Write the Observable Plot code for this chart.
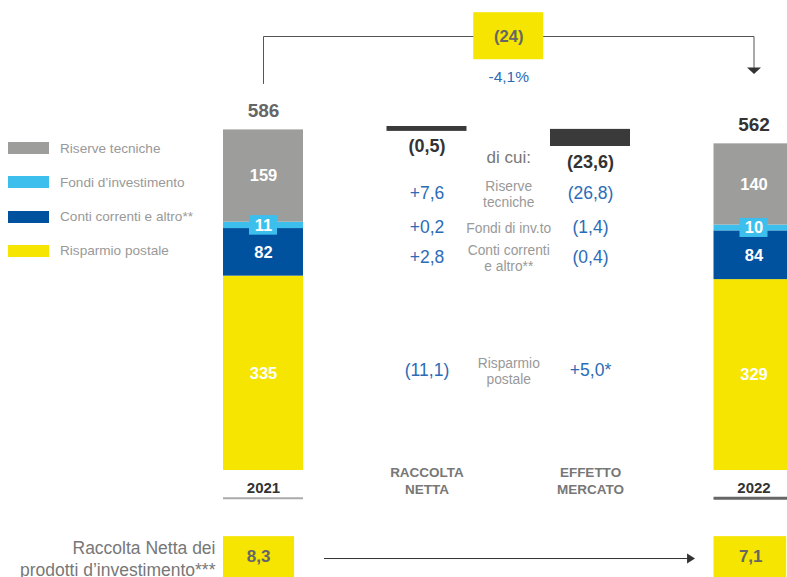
<!DOCTYPE html>
<html><head><meta charset="utf-8">
<script src="https://cdn.jsdelivr.net/npm/d3@7"></script>
<script src="https://cdn.jsdelivr.net/npm/@observablehq/plot@0.6"></script>
<style>
body{margin:0;background:#fff;}
#wrap{position:relative;width:787px;height:577px;overflow:hidden;font-family:"Liberation Sans",Arial,sans-serif;}
#wrap svg{position:absolute;left:0;top:0;}
#legend{position:absolute;left:8px;top:142px;}
.item{display:flex;align-items:center;height:12px;margin-bottom:22.3px;font-size:13.6px;color:#999;white-space:nowrap;}
.sw{width:41px;height:12px;margin-right:11px;flex:none;}
</style></head><body><div id="wrap"></div>
<script>
// ---- data ----
const columns = ["2021", "RACCOLTA\nNETTA", "EFFETTO\nMERCATO", "2022"];
const categories = ["Riserve tecniche", "Fondi d’investimento", "Conti correnti e altro**", "Risparmio postale"];
const colors = ["#9d9d9b", "#3dbfee", "#00529f", "#f5e500"];
const values2021 = [159, 11, 82, 335];
const values2022 = [140, 10, 84, 329];
const total2021 = 586;
const total2022 = 562;
const raccoltaNetta = -0.5;
const effettoMercato = -23.6;
const rowLabels = ["Riserve\ntecniche", "Fondi di inv.to", "Conti correnti\ne altro**", "Risparmio\npostale"];
const rowNet = [7.6, 0.2, 2.8, -11.1];
const rowMarket = [-26.8, -1.4, -0.4, 5.0];
const rowMarketNote = ["", "", "", "*"];
const productLabel = "Raccolta Netta dei\nprodotti d’investimento***";
const productValues = [8.3, 7.1];

// ---- layout (in chart units) ----
const hw = 0.2446;            // half bar width in column units
const rowY = [477, 418.5, 367, 172.5];
const connectorY = 748, connectorStart = 667, connectorEnd = 694, arrowHeadY = 689.4;
const FONT = "Liberation Sans, Arial, sans-serif";

const fmtNum = v => Math.abs(v).toFixed(1).replace(".", ",");
const fmt = v => v < 0 ? "(" + fmtNum(v) + ")" : "+" + fmtNum(v);

function stackRows(col, vals) {
  let acc = 0; const out = [];
  for (const i of [3, 2, 1, 0]) {
    out.push({col, cat: categories[i], value: vals[i], y1: acc, y2: acc + vals[i]});
    acc += vals[i];
  }
  return out;
}
const segs = [...stackRows(0, values2021), ...stackRows(3, values2022)];
const fondi = segs.filter(d => d.cat === categories[1]);

const totals = [{col: 0, v: total2021, c: "#666"}, {col: 3, v: total2022, c: "#333"}];
const flowNet = {col: 1, y1: total2021, y2: total2021 + raccoltaNetta, v: raccoltaNetta};
const flowMkt = {col: 2, y1: total2021 + raccoltaNetta, y2: total2021 + raccoltaNetta + effettoMercato, v: effettoMercato};
const rows = rowLabels.map((l, i) => ({l, y: rowY[i], net: fmt(rowNet[i]), mk: fmt(rowMarket[i]) + rowMarketNote[i]}));
const diff = total2022 - total2021;
const pct = diff / total2021 * 100;

const downTri = {draw(ctx) { ctx.moveTo(-7, -3); ctx.lineTo(7, -3); ctx.lineTo(0, 3.5); ctx.closePath(); }};
const rightTri = {draw(ctx) { ctx.moveTo(-4, -5); ctx.lineTo(4, 0); ctx.lineTo(-4, 5); ctx.closePath(); }};

const bw = {x1: d => d.col - hw, x2: d => d.col + hw, y1: "y1", y2: "y2", fill: "#3a3a3a"};

const chart = Plot.plot({
  width: 787, height: 577, margin: 0,
  style: {fontFamily: FONT, background: "transparent"},
  x: {domain: [0, 3], range: [263, 753.5], axis: null},
  y: {domain: [0, 586], range: [470, 130], axis: null},
  color: {domain: categories, range: colors},
  marks: [
    // stacked bars
    Plot.rect(segs, {x1: d => d.col - hw, x2: d => d.col + hw, y1: "y1", y2: "y2", fill: "cat"}),
    Plot.rect(fondi, {x1: d => d.col - 0.0856, x2: d => d.col + 0.0856, y1: "y1", y2: "y2", fill: "cat", insetTop: -6.6, insetBottom: -6.6}),
    Plot.text(segs, {x: "col", y: d => (d.y1 + d.y2) / 2, text: d => String(d.value), fill: "white", fontWeight: "bold", fontSize: 16.5}),
    // totals
    Plot.text(totals, {x: "col", y: "v", text: d => String(d.v), fill: "c", fontWeight: "bold", fontSize: 19, dy: -20}),
    // waterfall flows
    Plot.rect([flowNet], {...bw, insetTop: -4, insetBottom: -0.6}),
    Plot.rect([flowMkt], {...bw, insetTop: -1.4, insetBottom: -2}),
    Plot.text([flowNet], {x: "col", y: "y2", text: d => fmt(d.v), fill: "#333", fontWeight: "bold", fontSize: 18, dy: 15.5}),
    Plot.text([flowMkt], {x: "col", y: "y2", text: d => fmt(d.v), fill: "#333", fontWeight: "bold", fontSize: 18, dy: 17.5}),
    Plot.text(["di cui:"], {x: 1.5, y: 539, text: d => d, fill: "#777", fontSize: 17}),
    // detail rows
    Plot.text(rows, {x: 1.5, y: "y", text: "l", fill: "#999", fontSize: 13.8, lineHeight: 1.16}),
    Plot.text(rows, {x: 1, y: "y", text: "net", fill: "#2b6cb6", fontSize: 17.5}),
    Plot.text(rows, {x: 2, y: "y", text: "mk", fill: "#2b6cb6", fontSize: 17.5}),
    // column labels
    Plot.text([1, 2], {x: d => d, y: -17, text: d => columns[d], fill: "#777", fontWeight: "bold", fontSize: 13.5, lineHeight: 1.2}),
    Plot.text([0, 3], {x: d => d, y: -31, text: d => columns[d], fill: "#333", fontWeight: "bold", fontSize: 15}),
    Plot.ruleY([0], {x1: -hw, x2: hw, y: -48, stroke: "#aaa", strokeWidth: 2}),
    Plot.ruleY([0], {x1: 3 - hw, x2: 3 + hw, y: -48, stroke: "#666", strokeWidth: 3}),
    // top connector
    Plot.line([[0, connectorStart], [0, connectorY], [3, connectorY], [3, connectorEnd]], {stroke: "#555", strokeWidth: 1}),
    Plot.dot([[3, arrowHeadY]], {symbol: downTri, fill: "#333", stroke: null, r: 5}),
    Plot.rect([diff], {x1: 1.5 - 0.214, x2: 1.5 + 0.214, y1: connectorY - 40, y2: connectorY + 41, fill: "#f5e500"}),
    Plot.text([diff], {x: 1.5, y: connectorY, text: d => "(" + Math.abs(d) + ")", fill: "#666", fontWeight: "bold", fontSize: 16.5}),
    Plot.text([pct], {x: 1.5, y: 679, text: d => "-" + Math.abs(d).toFixed(1).replace(".", ",") + "%", fill: "#2b6cb6", fontSize: 15.5}),
    // bottom row
    Plot.rect(productValues, {x1: (d, i) => i * 3 - hw, x2: (d, i) => i * 3 + 0.19 + (i ? 0.01 : 0), y1: -200, y2: -114, fill: "#f5e500"}),
    Plot.text(productValues, {x: (d, i) => i * 3 + (i ? -0.02 : -0.03), y: -148, text: d => fmtNum(d), fill: "#666", fontWeight: "bold", fontSize: 17}),
    Plot.text([productLabel], {x: 0, y: -151.5, dx: -48, text: d => d, textAnchor: "end", fill: "#777", fontSize: 17.5, lineHeight: 1.26}),
    Plot.ruleY([0], {x1: 0.373, x2: 2.6, y: -151.7, stroke: "#333", strokeWidth: 1}),
    Plot.dot([[2.615, -151.7]], {symbol: rightTri, fill: "#333", stroke: null, r: 5})
  ]
});

const wrap = document.getElementById("wrap");
wrap.appendChild(chart);
const legend = document.createElement("div");
legend.id = "legend";
categories.forEach((c, i) => {
  const it = document.createElement("div");
  it.className = "item";
  it.innerHTML = `<span class="sw" style="background:${colors[i]}"></span><span>${c}</span>`;
  legend.appendChild(it);
});
wrap.appendChild(legend);
</script></body></html>
